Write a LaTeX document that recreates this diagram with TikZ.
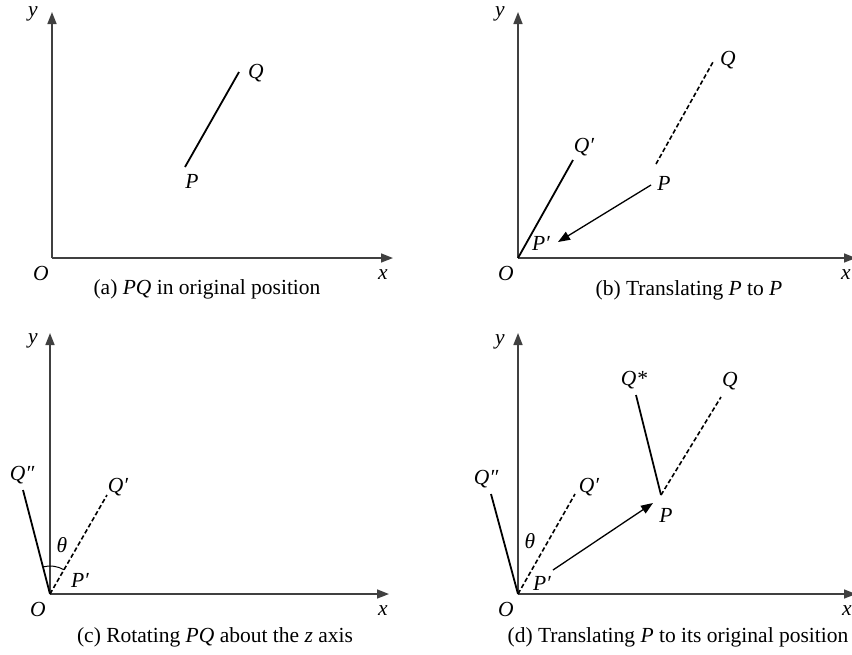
\documentclass[tikz,border=0pt]{standalone}
\usepackage{fontspec}
\setmainfont{Liberation Serif}
\usetikzlibrary{arrows.meta}
\begin{document}
\begin{tikzpicture}[x=1pt,y=-1pt,
  axis/.style={draw=black!75, line width=1.6pt, -{Triangle[length=12pt,width=9pt]}},
  seg/.style={line width=1.8pt},
  dseg/.style={line width=1.6pt, dash pattern=on 4.5pt off 2.5pt},
  mov/.style={line width=1.3pt, -{Triangle[length=12pt,width=9pt]}},
  lbl/.style={font=\fontsize{21.5}{24}\selectfont\itshape, inner sep=0pt},
  captext/.style={font=\fontsize{21.5}{24}\selectfont, inner sep=0pt}]
\useasboundingbox (0,0) rectangle (852,654);
% ---------- (a)
\coordinate (Oa) at (52,258);
\coordinate (Ya) at (52,12);
\coordinate (Xa) at (393,258);
\draw[axis] (Oa) -- (Ya);
\draw[axis] (Oa) -- (Xa);
\node[lbl] (ya) at (33,14) {y};
\node[lbl] (oa) at (41,273) {O};
\node[lbl] (xa) at (383,275) {x};
\coordinate (Pa) at (185,167);
\coordinate (Qa) at (239,72);
\draw[seg] (Pa) -- (Qa);
\node[lbl] (qa) at (256,73) {Q};
\node[lbl] (pa) at (192,181) {P};
\node[captext] (capa) at (207,289) {(a) \textit{PQ} in original position};
% ---------- (b)
\coordinate (Ob) at (518,258);
\coordinate (Yb) at (518,12);
\coordinate (Xb) at (856,258);
\draw[axis] (Ob) -- (Yb);
\draw[axis] (Ob) -- (Xb);
\node[lbl] (yb) at (500,14) {y};
\node[lbl] (ob) at (506,273) {O};
\node[lbl] (xb) at (846,275) {x};
\coordinate (Qpb) at (573,160);
\draw[seg] (Ob) -- (Qpb);
\coordinate (Pdb) at (656,164);
\coordinate (Qdb) at (713,62);
\draw[dseg] (Pdb) -- (Qdb);
\coordinate (Ab) at (651,185);
\coordinate (Bb) at (558,242);
\draw[mov] (Ab) -- (Bb);
\node[lbl] (qpb) at (584,147) {Q′};
\node[lbl] (ppb) at (541,243) {P′};
\node[lbl] (qb) at (728,60) {Q};
\node[lbl] (pb) at (664,183) {P};
\node[captext] (capb) at (689,290) {(b) Translating \textit{P} to \textit{P}};
% ---------- (c)
\coordinate (Oc) at (50,594);
\coordinate (Yc) at (50,333);
\coordinate (Xc) at (389,594);
\draw[axis] (Oc) -- (Yc);
\draw[axis] (Oc) -- (Xc);
\node[lbl] (yc) at (33,341) {y};
\node[lbl] (oc) at (38,609) {O};
\node[lbl] (xc) at (383,611) {x};
\coordinate (Qppc) at (23,490);
\coordinate (Qpc) at (107,495);
\draw[seg] (Oc) -- (Qppc);
\draw[dseg] (Oc) -- (Qpc);
\draw[line width=1pt] (Oc) ++(104.6:28pt) arc[start angle=104.6, end angle=60, radius=28pt];
\node[lbl] (qppc) at (22,475) {Q″};
\node[lbl] (qpc) at (118,487) {Q′};
\node[lbl] (thc) at (62,545) {θ};
\node[lbl] (ppc) at (80,580) {P′};
\node[captext] (capc) at (215,637) {(c) Rotating \textit{PQ} about the \textit{z} axis};
% ---------- (d)
\coordinate (Od) at (518,594);
\coordinate (Yd) at (518,333);
\coordinate (Xd) at (856,594);
\draw[axis] (Od) -- (Yd);
\draw[axis] (Od) -- (Xd);
\node[lbl] (yd) at (500,342) {y};
\node[lbl] (od) at (506,609) {O};
\node[lbl] (xd) at (847,611) {x};
\coordinate (Qppd) at (491,494);
\coordinate (Qpd) at (575,494);
\draw[seg] (Od) -- (Qppd);
\draw[dseg] (Od) -- (Qpd);
\coordinate (Ad) at (553,570);
\coordinate (Bd) at (653,503);
\draw[mov] (Ad) -- (Bd);
\coordinate (Pd) at (661,495);
\coordinate (Qsd) at (636,395);
\coordinate (Qd) at (721,397);
\draw[seg] (Pd) -- (Qsd);
\draw[dseg] (Pd) -- (Qd);
\node[lbl] (qppd) at (486,479) {Q″};
\node[lbl] (qpd) at (589,487) {Q′};
\node[lbl] (thd) at (530,541) {θ};
\node[lbl] (ppd) at (542,583) {P′};
\node[lbl] (pd) at (666,515) {P};
\node[lbl] (qsd) at (634,380) {Q*};
\node[lbl] (qd) at (730,381) {Q};
\node[captext] (capd) at (678,637) {(d) Translating \textit{P} to its original position};
\end{tikzpicture}
\end{document}
